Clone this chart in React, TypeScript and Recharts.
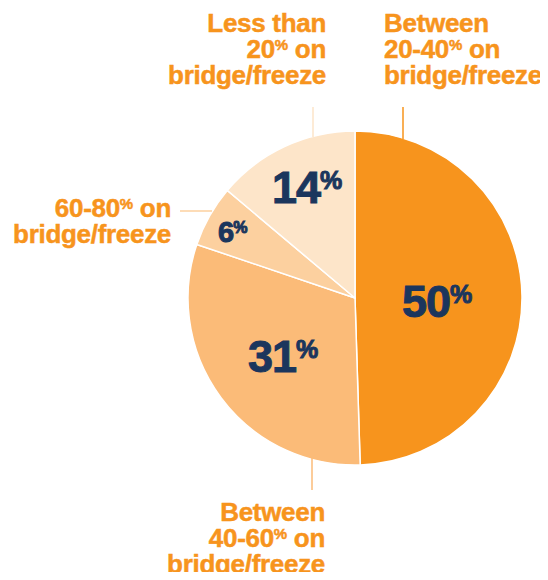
import React from 'react';
import { Cell, Pie, PieChart } from 'recharts';

// share of time spent on bridge/freeze
const CATEGORIES = ['Between 20-40%', 'Between 40-60%', '60-80%', 'Less than 20%'];
const VALUES = [50, 31, 6, 14];
const LABEL_LINES = [
  ['Between', '20-40% on', 'bridge/freeze'],
  ['Between', '40-60% on', 'bridge/freeze'],
  ['60-80% on', 'bridge/freeze'],
  ['Less than', '20% on', 'bridge/freeze'],
];
const COLORS = ['#F7941D', '#FBBB78', '#FCD09F', '#FDE5C9'];

const ORANGE = '#F7941D';
const NAVY = '#1B365D';
const FONT = '"Liberation Sans", Arial, Helvetica, sans-serif';

const data = CATEGORIES.map((name, i) => ({ name, value: VALUES[i] }));

// placement of the labels, relative to the pie centre
const INNER = [
  { dx: 47, dy: 19, size: 45, pct: 25, lift: 14 },
  { dx: -107, dy: 74, size: 45, pct: 25, lift: 14 },
  { dx: -137, dy: -56, size: 29, pct: 16, lift: 9 },
  { dx: -83, dy: -95, size: 45, pct: 25, lift: 14 },
];
const OUTER = [
  { x: 29, y: -266, anchor: 'start', line: [48, -191, 48, -159] },
  { x: -30, y: 223, anchor: 'end', line: [-43, 160, -43, 192] },
  { x: -184, y: -81, anchor: 'end', line: [-175, -87, -143, -87] },
  { x: -29, y: -266, anchor: 'end', line: [-42, -191, -42, -161] },
];
const LINE_GAP = [26, 26, 25];

const withPercent = (text: string, size: number, pct: number, lift: number) => {
  const parts = text.split('%');
  if (parts.length === 1) {
    return <tspan fontSize={size}>{text}</tspan>;
  }
  return (
    <>
      <tspan fontSize={size}>{parts[0]}</tspan>
      <tspan fontSize={pct} dy={-lift}>%</tspan>
      <tspan fontSize={size} dy={lift}>{parts[1]}</tspan>
    </>
  );
};

const renderLabel = (props: any) => {
  const { cx, cy, index, value } = props;
  const inner = INNER[index];
  const outer = OUTER[index];
  const [x1, y1, x2, y2] = outer.line;
  return (
    <g>
      <text
        x={cx + inner.dx}
        y={cy + inner.dy}
        fill={NAVY}
        stroke={NAVY}
        strokeWidth={1}
        fontFamily={FONT}
        fontWeight="bold"
        letterSpacing={-1}
        textAnchor="start"
      >
        {withPercent(`${value}%`, inner.size, inner.pct, inner.lift)}
      </text>
      <line
        x1={cx + x1}
        y1={cy + y1}
        x2={cx + x2}
        y2={cy + y2}
        stroke={COLORS[index]}
        strokeWidth={1.5}
      />
      {LABEL_LINES[index].map((line, i) => (
        <text
          key={line}
          x={cx + outer.x}
          y={cy + outer.y + LINE_GAP.slice(0, i).reduce((a, b) => a + b, 0)}
          fill={ORANGE}
          stroke={ORANGE}
          strokeWidth={0.5}
          fontFamily={FONT}
          fontWeight="bold"
          letterSpacing={-0.3}
          textAnchor={outer.anchor as any}
        >
          {withPercent(line, 26, 15, 8)}
        </text>
      ))}
    </g>
  );
};

export default function App() {
  return (
    <div style={{ width: 548, height: 580, margin: -8, background: '#fff' }}>
      <PieChart width={548} height={580} margin={{ top: 0, right: 0, bottom: 0, left: 0 }}>
        <Pie
          data={data}
          dataKey="value"
          nameKey="name"
          cx={355}
          cy={298}
          outerRadius={167}
          startAngle={90}
          endAngle={-270}
          stroke="#fff"
          strokeWidth={1.5}
          label={renderLabel}
          labelLine={false}
          isAnimationActive={false}
        >
          {data.map((d, i) => (
            <Cell key={d.name} fill={COLORS[i]} />
          ))}
        </Pie>
      </PieChart>
    </div>
  );
}
